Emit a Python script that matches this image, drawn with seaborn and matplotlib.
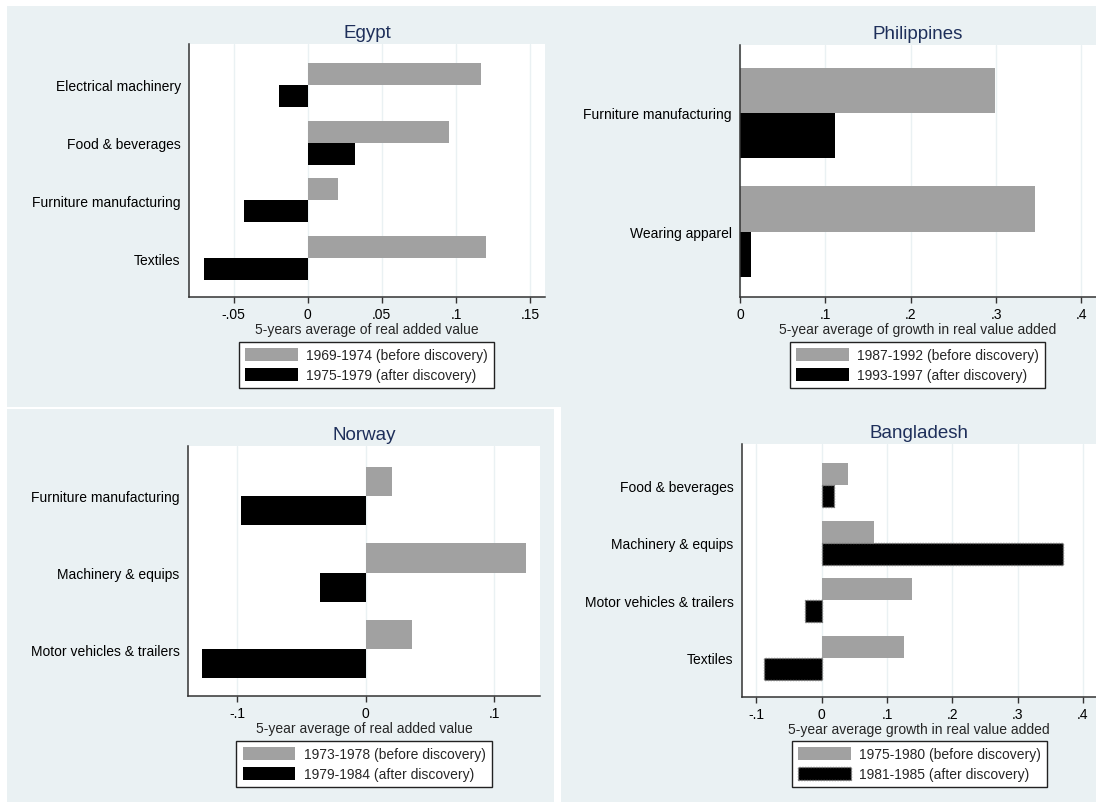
import matplotlib
matplotlib.use("Agg")
import matplotlib.pyplot as plt
from matplotlib.patches import Rectangle
import seaborn as sns
import pandas as pd

# ---------------- data ----------------
egypt_cats = ["Electrical machinery", "Food & beverages", "Furniture manufacturing", "Textiles"]
egypt_before = [0.117, 0.095, 0.0205, 0.1205]
egypt_after = [-0.019, 0.032, -0.043, -0.070]
egypt_periods = ["1969-1974 (before discovery)", "1975-1979 (after discovery)"]
egypt_xlabel = "5-years average of real added value"
egypt_ticks = [-0.05, 0, 0.05, 0.1, 0.15]
egypt_ticklabels = ["-.05", "0", ".05", ".1", ".15"]

phil_cats = ["Furniture manufacturing", "Wearing apparel"]
phil_before = [0.299, 0.346]
phil_after = [0.111, 0.0127]
phil_periods = ["1987-1992 (before discovery)", "1993-1997 (after discovery)"]
phil_xlabel = "5-year average of growth in real value added"
phil_ticks = [0, 0.1, 0.2, 0.3, 0.4]
phil_ticklabels = ["0", ".1", ".2", ".3", ".4"]

norway_cats = ["Furniture manufacturing", "Machinery & equips", "Motor vehicles & trailers"]
norway_before = [0.0207, 0.125, 0.0362]
norway_after = [-0.0965, -0.0354, -0.1275]
norway_periods = ["1973-1978 (before discovery)", "1979-1984 (after discovery)"]
norway_xlabel = "5-year average of real added value"
norway_ticks = [-0.1, 0, 0.1]
norway_ticklabels = ["-.1", "0", ".1"]

bangl_cats = ["Food & beverages", "Machinery & equips", "Motor vehicles & trailers", "Textiles"]
bangl_before = [0.0406, 0.0796, 0.139, 0.126]
bangl_after = [0.0187, 0.369, -0.0256, -0.0876]
bangl_periods = ["1975-1980 (before discovery)", "1981-1985 (after discovery)"]
bangl_xlabel = "5-year average growth in real value added"
bangl_ticks = [-0.1, 0, 0.1, 0.2, 0.3, 0.4]
bangl_ticklabels = ["-.1", "0", ".1", ".2", ".3", ".4"]

# ---------------- style ----------------
sns.set_style("ticks")
plt.rcParams["font.family"] = ["Liberation Sans", "DejaVu Sans"]
plt.rcParams["font.size"] = 10

W, H = 1096, 803
BG = "#EAF1F3"
GRAY = "#A1A1A1"
BLACK = "#000000"
TITLE_C = "#1E2F5A"
SPINE_C = "#333333"

fig = plt.figure(figsize=(W / 100, H / 100), dpi=100)
fig.patch.set_facecolor("white")


def rect_px(l, t, r, b):
    return [l / W, 1 - b / H, (r - l) / W, (b - t) / H]


# panel backgrounds
for (l, t, r, b) in [(7, 7, 1096, 408), (7, 410, 554, 803), (561, 408, 1096, 803)]:
    x0, y0, w, h = rect_px(l, t, r, b)
    fig.add_artist(Rectangle((x0, y0), w, h, transform=fig.transFigure,
                             facecolor=BG, edgecolor="none", zorder=-10))


def panel(box, title, cats, before, after, periods, xlabel, ticks, ticklabels,
          xlim, margins, legend_box, dotted=False):
    l, t, r, b = box
    ax = fig.add_axes(rect_px(l, t, r, b))
    df = pd.DataFrame({
        "category": cats * 2,
        "value": before + after,
        "period": [periods[0]] * len(cats) + [periods[1]] * len(cats),
    })
    sns.barplot(data=df, x="value", y="category", hue="period", hue_order=periods,
                order=cats, orient="h", palette=[GRAY, BLACK], saturation=1,
                width=0.76, gap=0, errorbar=None, ax=ax, legend=True,
                linewidth=0)
    if dotted:
        for p in ax.containers[1]:
            p.set_edgecolor("#7a7a7a")
            p.set_linestyle((0, (1, 1)))
            p.set_linewidth(1.0)
    ax.set_facecolor("white")
    ax.set_xlim(*xlim)
    n = len(cats)
    ax.set_ylim(n - 1 + margins[1], -margins[0])
    ax.set_xticks(ticks, ticklabels)
    ax.grid(axis="x", color=BG, lw=1.0)
    ax.grid(axis="y", visible=False)
    ax.set_axisbelow(True)
    for s in ["top", "right"]:
        ax.spines[s].set_visible(False)
    for s in ["left", "bottom"]:
        ax.spines[s].set_color(SPINE_C)
        ax.spines[s].set_linewidth(1.1)
    ax.tick_params(axis="x", length=4, width=1, color=SPINE_C, pad=3,
                   labelsize=10, labelcolor="black")
    ax.tick_params(axis="y", length=0, pad=6, labelsize=10, labelcolor="black")
    ax.set_ylabel("")
    ax.set_xlabel(xlabel, fontsize=10, labelpad=1)
    ax.set_title(title, fontsize=13.5, color=TITLE_C, pad=5)
    # legend placement
    ll, lt, lr, lb = legend_box
    xc = ((ll + lr) / 2 - l) / (r - l)
    yc = (b - (lt + lb) / 2) / (b - t)
    sns.move_legend(ax, "center", bbox_to_anchor=(xc, yc), title=None,
                    frameon=True, fancybox=False, shadow=False, framealpha=1,
                    handlelength=3.8, handleheight=1.05, handletextpad=0.6,
                    labelspacing=0.4, borderpad=0.45, fontsize=10,
                    edgecolor="#222222")
    leg = ax.get_legend()
    leg.get_frame().set_linewidth(1.0)
    if dotted:
        h = leg.legend_handles[1]
        h.set_edgecolor("#7a7a7a")
        h.set_linestyle((0, (1, 1)))
        h.set_linewidth(1.0)
    return ax


panel((189, 45, 545, 298), "Egypt", egypt_cats, egypt_before, egypt_after,
      egypt_periods, egypt_xlabel, egypt_ticks, egypt_ticklabels,
      (-0.08, 0.16), (0.705, 0.67), (234, 343, 499, 389))

panel((740, 46, 1096, 298), "Philippines", phil_cats, phil_before, phil_after,
      phil_periods, phil_xlabel, phil_ticks, phil_ticklabels,
      (0, 0.417), (0.57, 0.55), (786, 343, 1049, 389))

panel((188, 447, 540, 697), "Norway", norway_cats, norway_before, norway_after,
      norway_periods, norway_xlabel, norway_ticks, norway_ticklabels,
      (-0.138, 0.1356), (0.65, 0.61), (233, 742, 495, 788))

panel((742, 445, 1096, 698), "Bangladesh", bangl_cats, bangl_before, bangl_after,
      bangl_periods, bangl_xlabel, bangl_ticks, bangl_ticklabels,
      (-0.122, 0.42), (0.712, 0.677), (788, 742, 1051, 788), dotted=True)

fig.savefig("out.png", dpi=100, facecolor="white")
